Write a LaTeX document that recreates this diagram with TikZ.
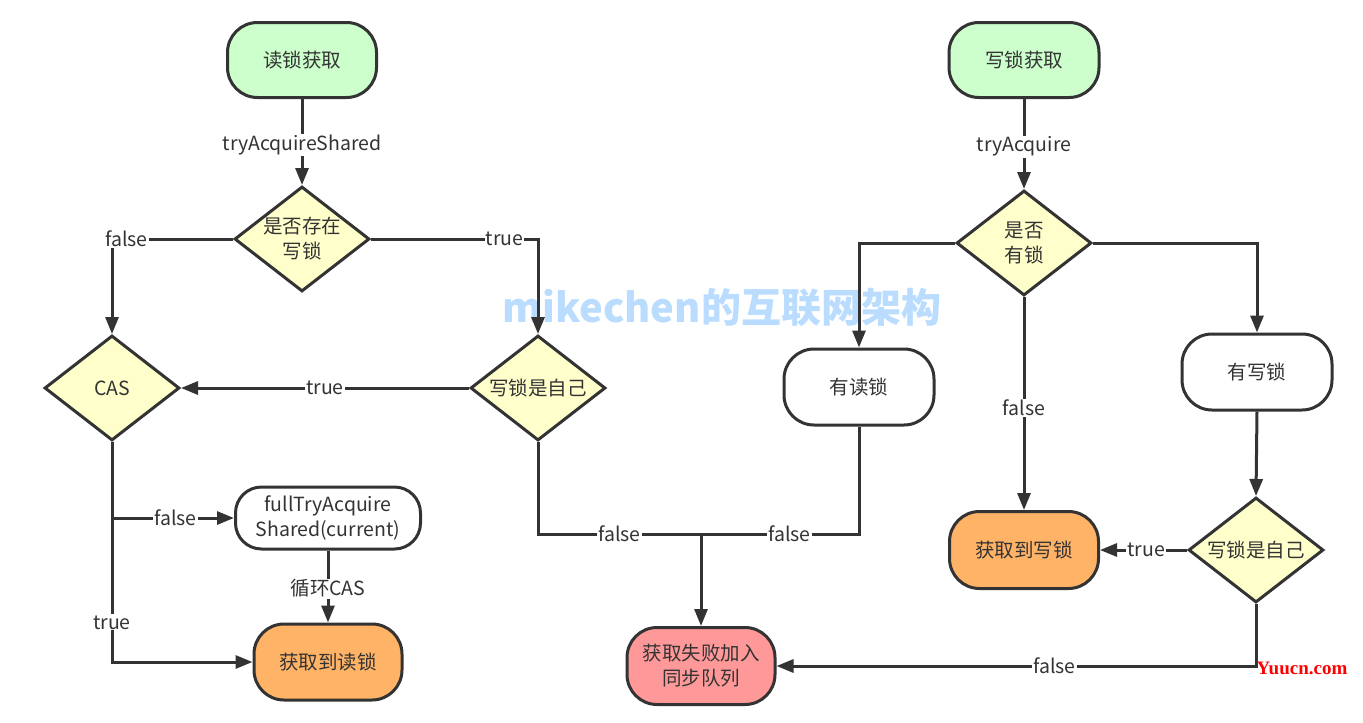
\documentclass[tikz,border=0pt]{standalone}
\usepackage{fontspec}
\setmainfont{Noto Sans CJK SC}
\newfontfamily\wmfont{Noto Sans CJK SC}
\newfontfamily\yufont{Liberation Serif}
\usetikzlibrary{shapes.geometric,arrows.meta}
\definecolor{ink}{HTML}{333333}
\definecolor{startg}{HTML}{CCFFCC}
\definecolor{decy}{HTML}{FFFFCC}
\definecolor{okor}{HTML}{FFB366}
\definecolor{failr}{HTML}{FF9999}
\definecolor{wmblue}{RGB}{185,220,255}
\tikzset{
  txt/.style={font=\fontsize{19.5}{25}\selectfont, text=ink, align=center},
  rbox/.style={txt, draw=ink, line width=3pt, rounded corners=30pt, inner sep=0pt},
  dec/.style={diamond, draw=ink, fill=decy, line width=3pt, inner sep=0pt,
    minimum width=135pt, minimum height=105pt},
  conn/.style={draw=ink, line width=3pt},
  arr/.style={conn, -{Triangle[length=17pt,width=13pt]}},
  lbl/.style={txt, fill=white, inner sep=1pt},
}
\begin{document}
\begin{tikzpicture}[x=1pt,y=-1pt]
\useasboundingbox (0,0) rectangle (1363,723);
% watermark
\node[font=\wmfont\bfseries\fontsize{40}{40}\selectfont, text=wmblue] (wm) at (722,308) {mikechen的互联网架构};
% left flow
\node[rbox, fill=startg, minimum width=149pt, minimum height=75pt] (rs) at (302,60) {读锁获取};
\node[dec] (d1) at (302,239) {};
\node[txt] (d1t) at (d1) {是否存在\\写锁};
\node[dec] (cas) at (112,388) {};
\node[txt] (cast) at (cas) {CAS};
\node[dec] (d2) at (538,388) {};
\node[txt] (d2t) at (d2) {写锁是自己};
\node[rbox, fill=white, minimum width=185pt, minimum height=62pt, rounded corners=26pt] (ft) at (328,518) {fullTryAcquire\\Shared(current)};
\node[rbox, fill=okor, minimum width=148pt, minimum height=76pt] (rd) at (328,662) {获取到读锁};
\node[rbox, fill=failr, minimum width=148pt, minimum height=77pt] (fail) at (701,666) {获取失败加入\\同步队列};
% right flow
\node[rbox, fill=startg, minimum width=150pt, minimum height=75pt] (ws) at (1024,60) {写锁获取};
\node[dec] (d3) at (1024,243) {};
\node[txt] (d3t) at (d3) {是否\\有锁};
\node[rbox, fill=white, minimum width=150pt, minimum height=76pt] (r1) at (859,387) {有读锁};
\node[rbox, fill=white, minimum width=150pt, minimum height=76pt] (r2) at (1257,372) {有写锁};
\node[rbox, fill=okor, minimum width=149pt, minimum height=77pt] (wl) at (1024,550) {获取到写锁};
\node[dec] (d4) at (1256,550) {};
\node[txt] (d4t) at (d4) {写锁是自己};
\coordinate (j) at (fail.north |- 0,534);
\coordinate (b1) at (cas.south |- ft.west);
% left connectors
\draw[arr] (rs.south) -- node[lbl, pos=0.53] {tryAcquireShared} (d1.north);
\draw[arr] (d1.west) -| node[lbl, pos=0.44] {false} (cas.north);
\draw[arr] (d1.east) -| node[lbl, pos=0.4] {true} (d2.north);
\draw[arr] (d2.west) -- node[lbl, pos=0.5] {true} (cas.east);
\draw[arr] (cas.south) |- node[lbl, pos=0.41] {true} (rd.west);
\draw[arr] (b1) -- node[lbl, pos=0.52] {false} (ft.west);
\draw[arr] (ft.south) -- node[lbl, pos=0.53] {循环CAS} (rd.north);
\draw[conn] (d2.south) |- node[lbl, pos=0.75] {false} (j);
\draw[conn] (r1.south) |- node[lbl, pos=0.72] {false} (j);
\draw[arr] (j) -- (fail.north);
% right connectors
\draw[arr] (ws.south) -- node[lbl, pos=0.53] {tryAcquire} (d3.north);
\draw[arr] (d3.west) -| (r1.north);
\draw[arr] (d3.east) -| (r2.north);
\draw[arr] (d3.south) -- node[lbl, pos=0.52] {false} (wl.north);
\draw[arr] (r2.south) -- (d4.north);
\draw[arr] (d4.west) -- node[lbl, pos=0.47] {true} (wl.east);
\draw[arr] (d4.south) |- node[lbl, pos=0.71] {false} (fail.east);
% site mark
\node[font=\yufont\bfseries\fontsize{19}{19}\selectfont, text=red, inner sep=0pt] (yu) at (1302,668) {Yuucn.com};
\end{tikzpicture}
\end{document}
